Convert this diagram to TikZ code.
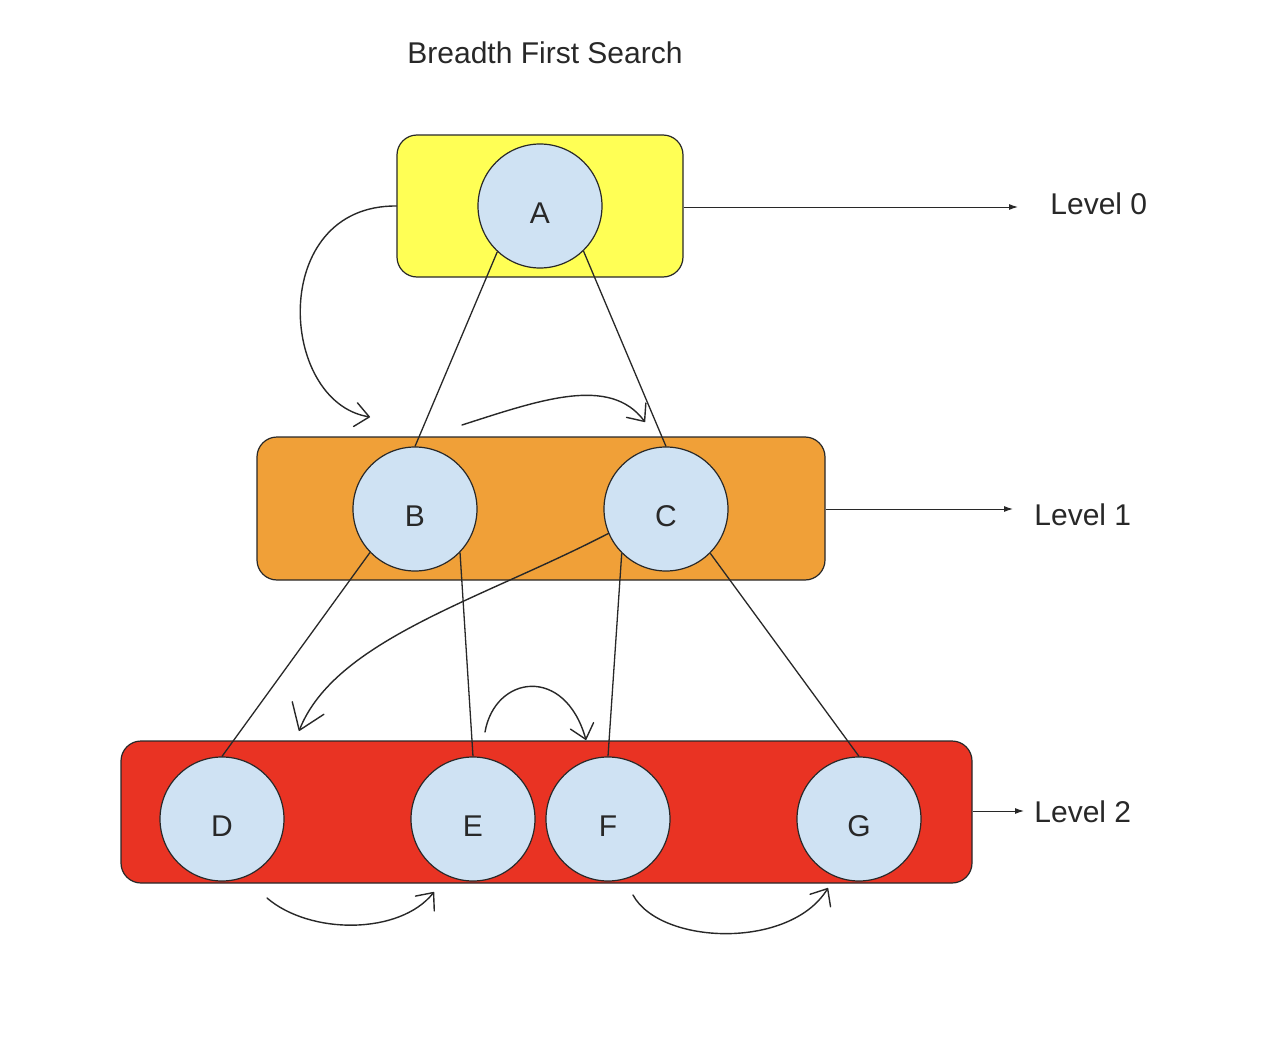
\documentclass[tikz,border=0pt]{standalone}
\usepackage{fontspec}
\setmainfont{Liberation Sans}
\usetikzlibrary{arrows.meta}
\definecolor{yel}{RGB}{255,255,85}
\definecolor{org}{RGB}{240,160,56}
\definecolor{rd}{RGB}{233,51,35}
\definecolor{lb}{RGB}{207,226,243}
\definecolor{ink}{RGB}{40,40,40}
\tikzset{
  lvlbox/.style={draw=ink, line width=0.6pt, rounded corners=10pt, inner sep=0pt},
  vert/.style={circle, draw=ink, line width=0.6pt, fill=lb, minimum size=62pt, inner sep=0pt,
    text height=17.7pt, text depth=0pt,
    font=\fontsize{15}{18}\selectfont, text=ink},
  edge/.style={draw=ink, line width=0.65pt},
  lvlarrow/.style={draw=ink, line width=0.5pt, -{Latex[length=4.5pt,width=3pt]}},
  lvltext/.style={anchor=west, inner sep=0pt, font=\fontsize{15}{18}\selectfont, text=ink},
  hand/.style={draw=ink, line width=0.7pt, line cap=round, -{Straight Barb[length=7pt,width=12pt,round]}},
}
\begin{document}
\begin{tikzpicture}[x=0.5pt, y=-0.5pt]
\useasboundingbox (0,0) rectangle (1266,1044);
\fill[white] (0,0) rectangle (1266,1044);

\node[font=\fontsize{15}{18}\selectfont, text=ink] (title) at (545,53) {Breadth First Search};

% level boxes
\node[lvlbox, fill=yel, minimum width=143pt, minimum height=71pt] (Y) at (540,206) {};
\node[lvlbox, fill=org, minimum width=284pt, minimum height=71.5pt] (O) at (541,508.5) {};
\node[lvlbox, fill=rd, minimum width=425.5pt, minimum height=71pt] (R) at (546.5,812) {};

% vertices
\node[vert] (A) at (540,206) {A};
\node[vert] (B) at (415,509) {B};
\node[vert] (C) at (666,509) {C};
\node[vert] (D) at (222,819) {D};
\node[vert] (E) at (473,819) {E};
\node[vert] (F) at (608,819) {F};
\node[vert] (G) at (859,819) {G};

% tree edges
\draw[edge] (A.227) -- (B.north);
\draw[edge] (A.-46) -- (C.north);
\draw[edge] (B.224) -- (D.north);
\draw[edge] (B.-44) -- (E.north);
\draw[edge] (C.225) -- (F.north);
\draw[edge] (C.-45) -- (G.north);

% level labels
\node[lvltext] (L0) at (1050,204) {Level 0};
\node[lvltext] (L1) at (1034,515) {Level 1};
\node[lvltext] (L2) at (1034,812) {Level 2};
\coordinate (e0) at (1018,207);
\coordinate (e1) at (1013,509);
\coordinate (e2) at (1024,811);
\draw[lvlarrow] (Y.east |- e0) -- (e0);
\draw[lvlarrow] (O.east |- e1) -- (e1);
\draw[lvlarrow] (R.east |- e2) -- (e2);

% traversal arrows
\coordinate (t1) at (370,417);
\draw[hand] (Y.west) .. controls (268,205) and (278,402) .. (t1);
\coordinate (s2) at (462,425);
\coordinate (t2) at (645,422);
\draw[hand] (s2) .. controls (540,400) and (610,375) .. (t2);
\coordinate (t3) at (299,731);
\draw[hand, -{Straight Barb[length=12pt,width=17pt,round]}] (C.203) .. controls (480,600) and (335,640) .. (t3);
\coordinate (s4) at (485,732);
\coordinate (t4) at (586,740);
\draw[hand] (s4) .. controls (495,675) and (565,665) .. (t4);
\coordinate (s5) at (267,898);
\coordinate (t5) at (434,892);
\draw[hand] (s5) .. controls (310,935) and (400,935) .. (t5);
\coordinate (s6) at (633,895);
\coordinate (t6) at (828,888);
\draw[hand] (s6) .. controls (660,945) and (790,950) .. (t6);
\end{tikzpicture}
\end{document}
